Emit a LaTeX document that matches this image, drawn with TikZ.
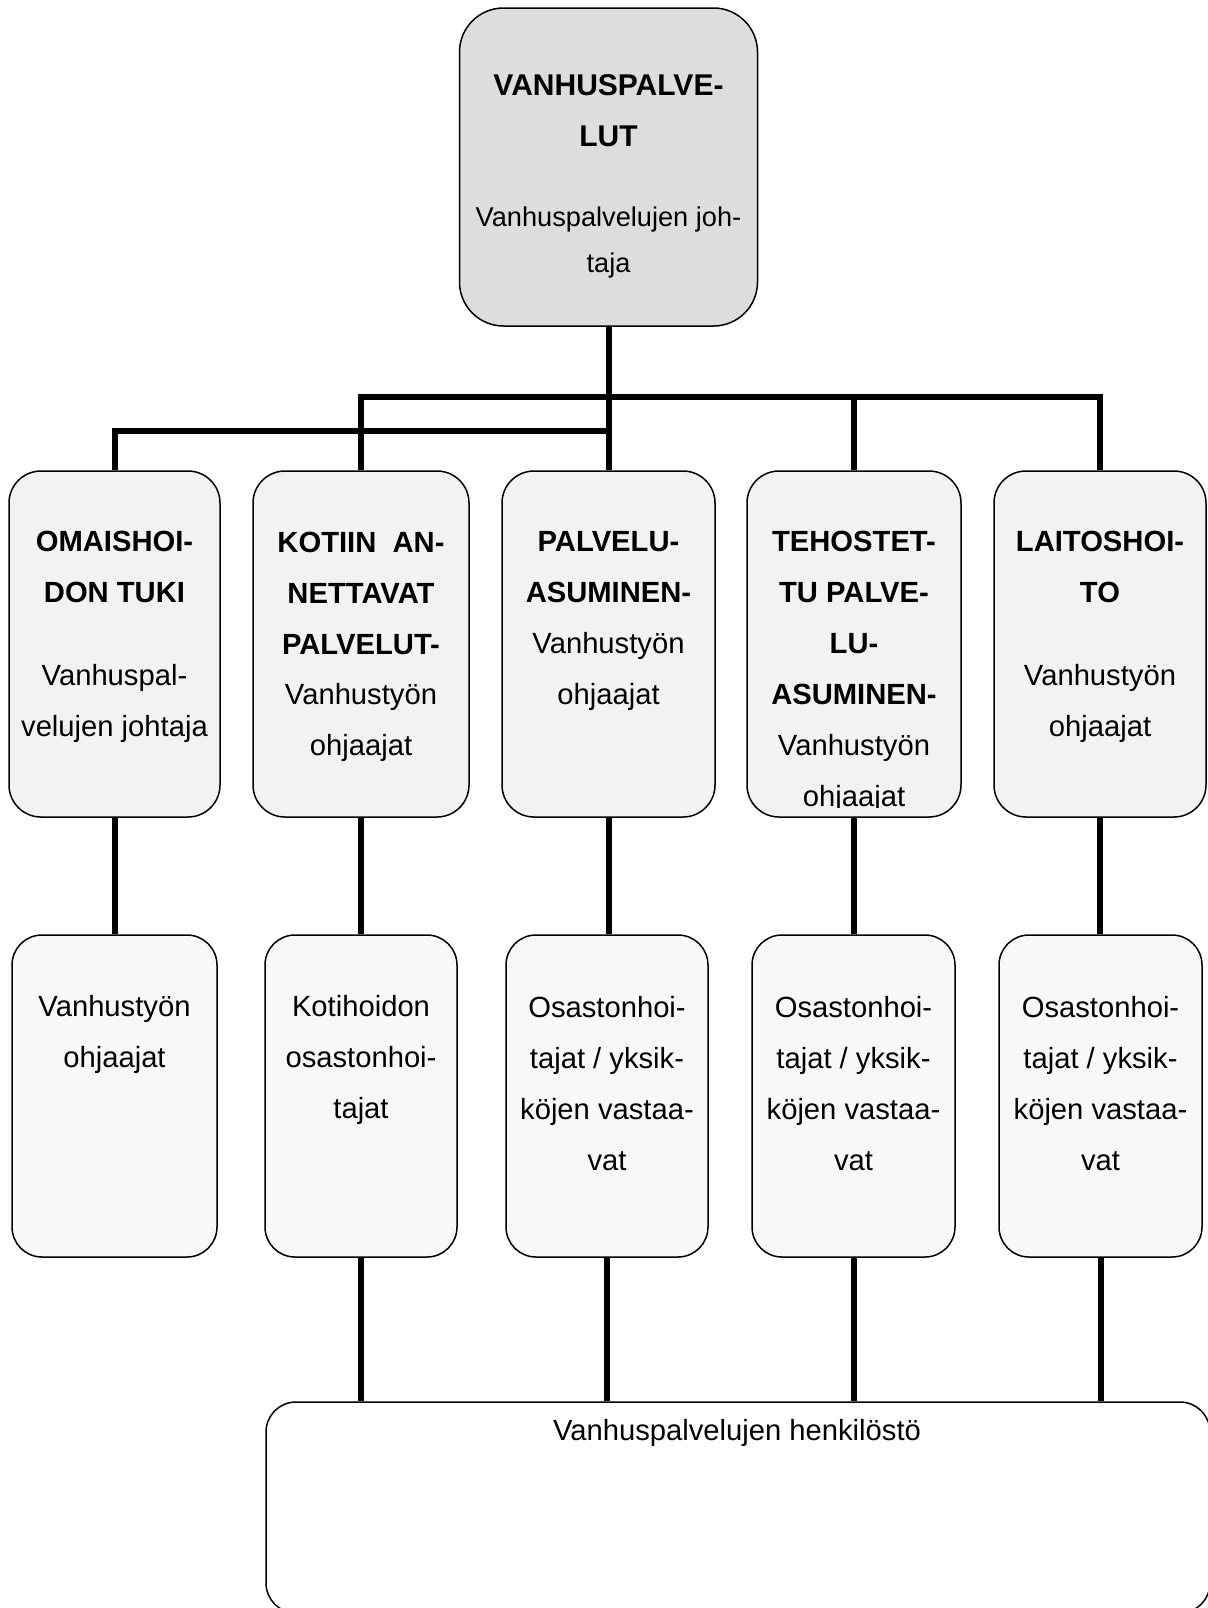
\documentclass[tikz,border=0pt]{standalone}
\usepackage{fontspec}
\setmainfont{Liberation Sans}
\usetikzlibrary{backgrounds}
\definecolor{topfill}{HTML}{DDDDDD}
\definecolor{midfill}{HTML}{F2F2F2}
\definecolor{lowfill}{HTML}{F8F8F8}
\begin{document}
\begin{tikzpicture}[x=0.5pt,y=-0.5pt,
  box/.style={draw=black, line width=0.75pt, inner sep=0pt},
  topbox/.style={box, fill=topfill, rounded corners=22pt},
  midbox/.style={box, fill=midfill, rounded corners=16pt, minimum height=173pt},
  lowbox/.style={box, fill=lowfill, rounded corners=15pt, minimum height=161pt},
  botbox/.style={box, fill=white, rounded corners=15pt},
  conn/.style={line width=3pt, black},
  txt/.style={align=center, inner sep=0pt, font=\fontsize{14.6pt}{25.5pt}\selectfont},
  ttl/.style={align=center, inner sep=0pt, font=\fontsize{14.6pt}{25.5pt}\selectfont\bfseries}]
\useasboundingbox (0,0) rectangle (1207,1608);

% boxes
\node[topbox, minimum width=149pt, minimum height=159pt] (top) at (608.5,167) {};
\node[midbox, minimum width=105.5pt] (b1) at (114.5,644) {};
\node[midbox, minimum width=108pt]   (b2) at (361,644) {};
\node[midbox, minimum width=106.5pt] (b3) at (608.5,644) {};
\node[midbox, minimum width=107pt]   (b4) at (854,644) {};
\node[midbox, minimum width=106pt]   (b5) at (1100,644) {};
\node[lowbox, minimum width=102.5pt] (c1) at (114.5,1096) {};
\node[lowbox, minimum width=96pt]    (c2) at (361,1096) {};
\node[lowbox, minimum width=101pt]   (c3) at (607,1096) {};
\node[lowbox, minimum width=101.5pt] (c4) at (853.5,1096) {};
\node[lowbox, minimum width=101.5pt] (c5) at (1100.5,1096) {};
\node[botbox, minimum width=472pt, minimum height=105.5pt] (bot) at (738,1507.5) {};

% texts
\node[align=center, inner sep=0pt, font=\fontsize{15pt}{25.5pt}\selectfont\bfseries] (t0) at (608.5,110.5) {VANHUSPALVE-\\LUT};
\node[align=center, inner sep=0pt, font=\fontsize{13.6pt}{23pt}\selectfont] (s0) at (608.5,242) {Vanhuspalvelujen joh-\\taja};

\node[ttl] (t1) at (114.5,567) {OMAISHOI-\\DON TUKI};
\node[txt] (s1) at (114.5,703) {Vanhuspal-\\velujen johtaja};
\node[ttl] (t2) at (361,593) {KOTIIN~~AN-\\NETTAVAT\\PALVELUT-};
\node[txt] (s2) at (361,722) {Vanhustyön\\ohjaajat};
\node[ttl] (t3) at (608.5,567) {PALVELU-\\ASUMINEN-};
\node[txt] (s3) at (608.5,671) {Vanhustyön\\ohjaajat};
\node[ttl] (t4) at (854,618) {TEHOSTET-\\TU PALVE-\\LU-\\ASUMINEN-};
\begin{scope}
\clip (747,471) rectangle (961,807);
\node[txt] (s4) at (854,773) {Vanhustyön\\ohjaajat};
\end{scope}
\node[ttl] (t5) at (1100,567) {LAITOSHOI-\\TO};
\node[txt] (s5) at (1100,703) {Vanhustyön\\ohjaajat};

\node[txt] (u1) at (114.5,1034.5) {Vanhustyön\\ohjaajat};
\node[txt] (u2) at (361,1060) {Kotihoidon\\osastonhoi-\\tajat};
\node[txt] (u3) at (607,1083.5) {Osastonhoi-\\tajat / yksik-\\köjen vastaa-\\vat};
\node[txt] (u4) at (853.5,1083.5) {Osastonhoi-\\tajat / yksik-\\köjen vastaa-\\vat};
\node[txt] (u5) at (1100.5,1083.5) {Osastonhoi-\\tajat / yksik-\\köjen vastaa-\\vat};
\node[txt] (ub) at (737,1433) {Vanhuspalvelujen henkilöstö};

\coordinate (ju) at (854,397);
\coordinate (jl) at (608.5,431);

\begin{scope}[on background layer]
\fill[white] (0,0) rectangle (1207,1608);
\draw[conn] (top.south) -- (b3.north);
\draw[conn] (b1.north) |- (jl);
\draw[conn] (b2.north) |- (ju) -| (b5.north);
\draw[conn] (b4.north) -- (b4.north |- ju);
\foreach \i in {1,...,5}{
  \draw[conn] (b\i.south) -- (b\i.south |- c\i.north);
}
\foreach \i in {2,...,5}{
  \draw[conn] (c\i.south) -- (c\i.south |- bot.north);
}
\end{scope}
\end{tikzpicture}
\end{document}
